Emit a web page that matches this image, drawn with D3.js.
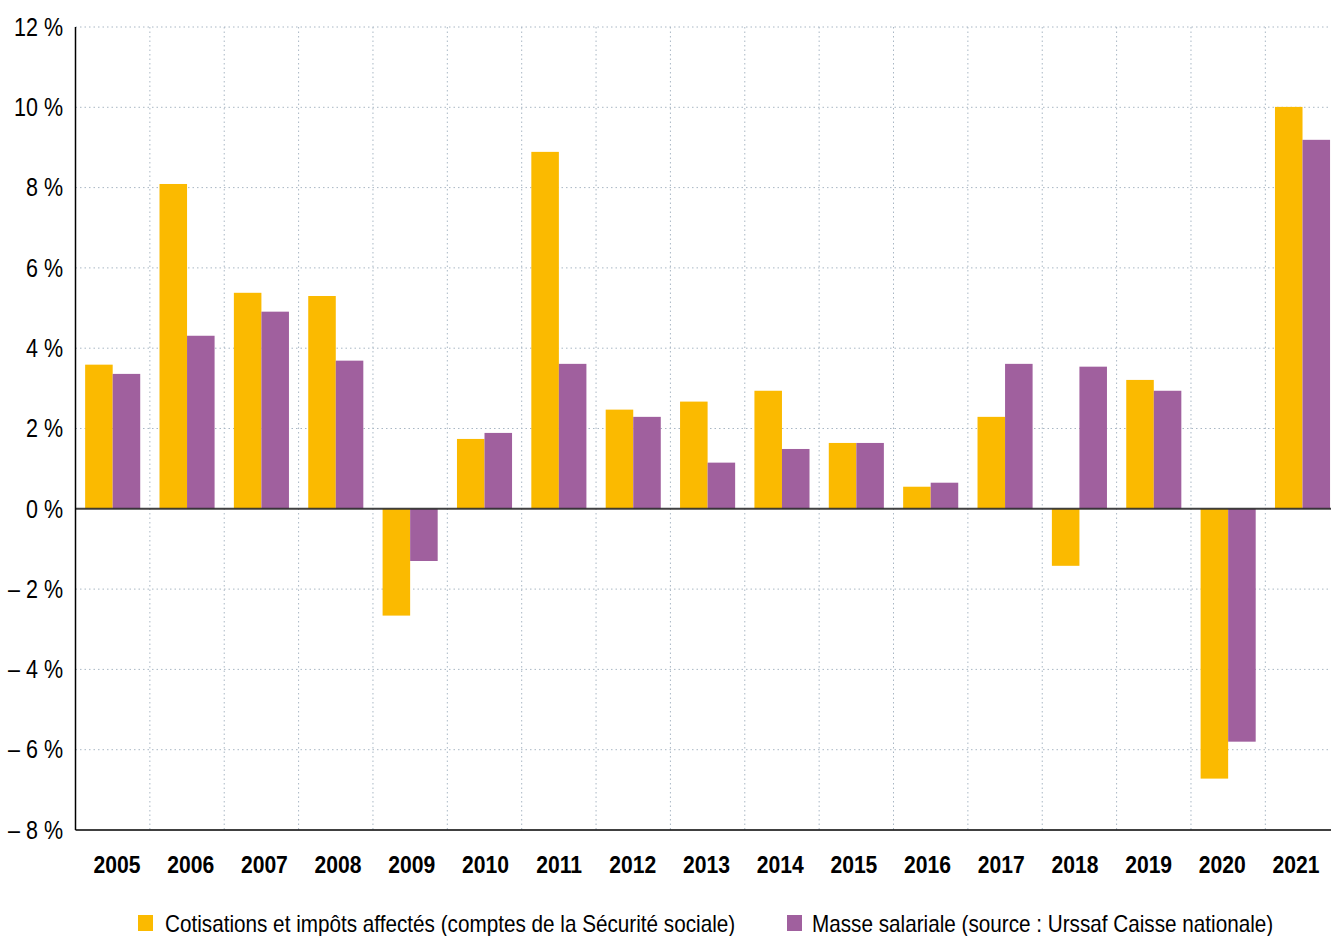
<!DOCTYPE html>
<html>
<head>
<meta charset=utf-8>
<style>
body {margin: 0; background: #fff;}
svg {display: block; font-family: 'Liberation Sans', Arial, sans-serif;}
.grid line {stroke: #a9b7c4; stroke-dasharray: 1.5 3; stroke-width: 1;}
</style>
</head>
<body>
<svg id=chart width=1331 height=936></svg>
<script src='https://cdn.jsdelivr.net/npm/d3@7/dist/d3.min.js'></script>
<script>
//data
var years = ['2005','2006','2007','2008','2009','2010','2011','2012','2013','2014','2015','2016','2017','2018','2019','2020','2021'];
var cotisations = [3.59, 8.09, 5.38, 5.30, -2.66, 1.74, 8.89, 2.47, 2.67, 2.94, 1.64, 0.55, 2.29, -1.42, 3.21, -6.72, 10.01];
var masse = [3.36, 4.31, 4.91, 3.69, -1.30, 1.89, 3.61, 2.29, 1.15, 1.49, 1.64, 0.65, 3.61, 3.54, 2.94, -5.80, 9.19];
var yTicks = [12, 10, 8, 6, 4, 2, 0, -2, -4, -6, -8];
var seriesNames = ['Cotisations et impôts affectés (comptes de la Sécurité sociale)',
                   'Masse salariale (source : Urssaf Caisse nationale)'];
var colors = ['#fbba00', '#a0609e'];

var svg = d3.select('#chart');
var plotLeft = 75.5, plotRight = 1339.7, plotTop = 27, plotBottom = 830, clipRight = 1331;
var narrow = 0.86; //horizontal squeeze to mimic a narrow font

//scales
var x0 = d3.scaleBand().domain(years).range([plotLeft, plotRight]).padding(0);
var x1 = d3.scaleBand().domain([0, 1]).range([0, x0.bandwidth()]).paddingInner(0).paddingOuter(0.35);
var xLab = d3.scalePoint().domain(years).range([117, 1296]); //year labels sit on a slightly tighter spread
var y = d3.scaleLinear().domain([-8, 12]).range([plotBottom, plotTop]);

//gridlines
var grid = svg.append('g').attr('class', 'grid');
grid.selectAll('.h').data(yTicks.filter(function(d){ return d !== -8 && d !== 0; }))
  .enter().append('line')
    .attr('x1', plotLeft).attr('x2', clipRight)
    .attr('y1', function(d){ return y(d); }).attr('y2', function(d){ return y(d); });
grid.selectAll('.v').data(years.slice(1))
  .enter().append('line')
    .attr('x1', function(d){ return x0(d); }).attr('x2', function(d){ return x0(d); })
    .attr('y1', plotTop).attr('y2', plotBottom);

//bars
var table = years.map(function(yr, i){ return {year: yr, values: [cotisations[i], masse[i]]}; });
svg.append('g').selectAll('g')
  .data(table)
  .enter().append('g')
    .attr('transform', function(d){ return 'translate(' + x0(d.year) + ',0)'; })
  .selectAll('rect')
  .data(function(d){ return d.values.map(function(v, k){ return {k: k, v: v}; }); })
  .enter().append('rect')
    .attr('x', function(d){ return x1(d.k); })
    .attr('width', x1.bandwidth())
    .attr('y', function(d){ return y(Math.max(0, d.v)); })
    .attr('height', function(d){ return Math.abs(y(d.v) - y(0)); })
    .attr('fill', function(d){ return colors[d.k]; });

//zero line
svg.append('line')
    .attr('x1', plotLeft).attr('x2', clipRight)
    .attr('y1', y(0)).attr('y2', y(0))
    .attr('stroke', '#2b2b2b').attr('stroke-opacity', 0.9).attr('stroke-width', 2);

//axes lines
svg.append('line').attr('x1', plotLeft).attr('x2', plotLeft).attr('y1', plotTop).attr('y2', plotBottom)
    .attr('stroke', '#000').attr('stroke-width', 1.5);
svg.append('line').attr('x1', plotLeft).attr('x2', clipRight).attr('y1', plotBottom).attr('y2', plotBottom)
    .attr('stroke', '#000').attr('stroke-width', 1.5);

function place(x, yy, sx){ return 'translate(' + x + ',' + yy + ') scale(' + sx + ',1)'; }

//y labels
svg.append('g').selectAll('text').data(yTicks)
  .enter().append('text')
    .attr('transform', function(d){ return place(63, y(d), narrow); })
    .attr('dy', '0.35em')
    .attr('text-anchor', 'end')
    .attr('font-size', 25)
    .text(function(d){ return (d < 0 ? '\u2013 ' + (-d) : d) + ' %'; });

//x labels
svg.append('g').selectAll('text').data(years)
  .enter().append('text')
    .attr('transform', function(d){ return place(xLab(d), 873, 0.88); })
    .attr('text-anchor', 'middle')
    .attr('font-size', 24)
    .attr('font-weight', 'bold')
    .text(function(d){ return d; });

//legend
var legX = [138, 787];
var leg = svg.append('g').selectAll('g').data(seriesNames)
  .enter().append('g')
    .attr('transform', function(d, i){ return 'translate(' + legX[i] + ',0)'; });
leg.append('rect').attr('x', 0).attr('y', 915).attr('width', 15).attr('height', 16)
    .attr('fill', function(d, i){ return colors[i]; });
leg.append('text')
    .attr('transform', function(d, i){ return place(i === 0 ? 27 : 25, 932, 0.9); })
    .attr('font-size', 23)
    .text(function(d){ return d; });
</script>
</body>
</html>
